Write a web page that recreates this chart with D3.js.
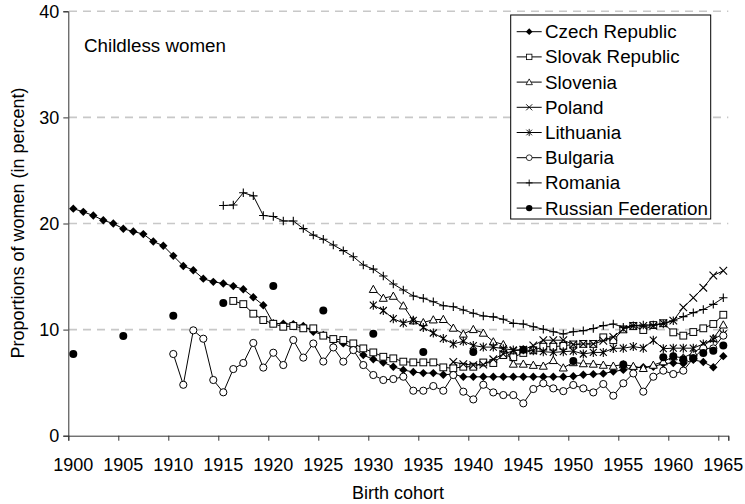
<!DOCTYPE html>
<html><head><meta charset="utf-8">
<script src="https://cdn.jsdelivr.net/npm/d3@7"></script>
<style>body{margin:0;background:#fff}svg{display:block}text{font-family:"Liberation Sans",Arial,sans-serif;fill:#000}</style>
</head><body><svg id="c" width="745" height="504"></svg>
<script>
const years = d3.range(1900, 1966);
const xTickLabels = [1900,1905,1910,1915,1920,1925,1930,1935,1940,1945,1950,1955,1960,1965];
const yTicks = [0,10,20,30,40];

const czechStart = 1900;
const czech = [21.4,21.1,20.75,20.3,20.0,19.5,19.25,19.0,18.3,17.9,16.95,16.0,15.6,14.8,14.5,14.35,14.1,13.8,13.05,12.3,
  10.6,10.55,10.5,10.35,9.8,9.5,9.0,8.7,8.2,7.6,7.2,6.9,6.5,6.2,6.0,5.9,5.9,5.75,5.8,5.55,
  5.55,5.55,5.55,5.55,5.55,5.55,5.55,5.55,5.55,5.55,5.6,5.75,5.8,5.85,6.05,6.2,6.4,6.45,6.5,6.8,
  6.85,6.8,7.15,6.95,6.45,7.5];
const slovakStart = 1916;
const slovak = [12.7,12.4,11.5,10.9,10.55,10.27,10.34,10.12,10.12,9.43,9.11,9.02,8.7,8.23,7.85,7.44,7.29,6.98,6.91,6.91,
  6.91,6.44,6.35,6.5,6.5,6.9,6.85,7.6,7.4,7.8,8.05,8.39,8.39,8.47,8.6,8.65,8.65,9.27,9.0,10.02,
  10.34,9.96,10.43,10.6,9.74,9.43,9.77,10.12,10.53,11.4];
const sloveniaStart = 1930;
const slovenia = [13.8,12.97,13.16,12.25,10.84,10.67,10.93,10.97,10.15,9.59,10.02,9.68,8.86,8.6,6.76,6.76,6.65,6.57,7.1,6.4,
  6.9,6.8,6.76,6.66,6.57,6.7,6.55,6.35,6.66,6.98,7.45,7.35,7.8,8.45,9.17,10.45];
const polandStart = 1938;
const poland = [6.95,6.75,6.65,6.7,7.2,7.7,8.0,8.1,8.5,9.0,9.0,9.0,8.6,8.65,8.65,8.95,9.3,10.05,10.35,10.35,
  10.35,10.6,10.85,12.1,13.0,13.95,15.1,15.55];
const lithuaniaStart = 1930;
const lithuania = [12.3,11.8,11.03,10.62,10.87,10.2,9.68,9.15,8.65,8.9,8.5,8.35,8.35,8.2,8.08,8.1,8.0,7.92,7.85,7.92,
  7.98,7.7,7.85,7.85,8.23,8.25,8.4,8.25,9.0,8.2,8.25,8.25,8.25,8.65,9.1,9.6];
const bulgariaStart = 1910;
const bulgaria = [7.7,4.8,9.93,9.14,5.25,4.09,6.28,6.85,8.74,6.42,7.82,6.66,9.02,7.36,8.69,6.99,8.32,6.98,8.07,6.66,
  5.72,5.25,5.34,5.56,4.24,4.24,4.68,4.24,5.72,4.15,3.42,4.8,4.08,3.83,3.83,3.05,4.4,4.94,4.46,4.2,
  4.78,4.46,4.08,4.87,3.77,4.94,5.87,4.15,5.56,6.13,5.81,6.13,7.29,8.23,8.23,9.43];
const romaniaStart = 1915;
const romania = [21.7,21.74,22.9,22.6,20.75,20.66,20.24,20.24,19.52,18.9,18.52,17.97,17.44,16.87,16.09,15.7,15.05,14.3,13.73,13.17,
  12.95,12.63,12.25,12.16,11.85,11.54,11.28,11.2,10.97,10.59,10.53,10.27,10.03,9.8,9.59,9.8,9.9,10.1,10.37,10.53,
  10.22,10.37,10.43,10.45,10.53,10.84,11.22,11.6,11.9,12.38,13.0];
const russiaYears = [1900,1905,1910,1915,1920,1925,1930,1935,1940,1945,1950,1955,1959,1960,1961,1962,1963,1964,1965];
const russia = [7.7,9.4,11.3,12.5,14.1,11.8,9.6,7.9,7.9,8.1,7.05,6.7,7.4,7.5,7.2,7.3,7.8,8.0,8.5];

const seriesNames = ["Czech Republic","Slovak Republic","Slovenia","Poland","Lithuania","Bulgaria","Romania","Russian Federation"];
const markerTypes = ["diamond","square","triangle","x","asterisk","circle","plus","dot"];

function toPoints(start, vals){ return vals.map((v,i)=>({year:start+i, v})); }
const series = [
  {pts: toPoints(czechStart, czech), line:true},
  {pts: toPoints(slovakStart, slovak), line:true},
  {pts: toPoints(sloveniaStart, slovenia), line:true},
  {pts: toPoints(polandStart, poland), line:true},
  {pts: toPoints(lithuaniaStart, lithuania), line:true},
  {pts: toPoints(bulgariaStart, bulgaria), line:true},
  {pts: toPoints(romaniaStart, romania), line:true},
  {pts: russiaYears.map((y,i)=>({year:y, v:russia[i]})), line:false}
];
series.forEach((s,i)=>{s.name=seriesNames[i]; s.marker=markerTypes[i];});

const svg = d3.select("#c");
const x = d3.scaleBand().domain(years).range([68.3, 728.3]).padding(0);
const xEdge = d3.scaleLinear().domain([1899.5, 1965.5]).range([68.3, 728.3]);
const y = d3.scaleLinear().domain([0, 40]).range([435.7, 11.3]);
const cx = yr => x(yr) + x.bandwidth()/2;

// gridlines
svg.append("g").selectAll("line").data(yTicks.filter(t=>t>0)).join("line")
  .attr("x1", 69).attr("x2", 728.3).attr("y1", d=>y(d)).attr("y2", d=>y(d))
  .attr("stroke", "#c8c8c8").attr("stroke-width", 1.6).attr("stroke-dasharray", "8,6");

// axes
const yAxis = svg.append("g").attr("transform", "translate(68.3,0)")
  .call(d3.axisLeft(y).tickValues(yTicks).tickSize(5).tickPadding(4));
const xTicks = svg.append("g").attr("transform", "translate(0,435.7)")
  .call(d3.axisBottom(xEdge).tickValues(d3.range(1899.5, 1966, 5).concat([1965.5])).tickSize(5).tickFormat(""));
const xLabels = svg.append("g").attr("transform", "translate(0,435.7)")
  .call(d3.axisBottom(x).tickValues(xTickLabels).tickSize(0).tickPadding(23));
xLabels.select(".domain").remove();
[yAxis, xTicks].forEach(g=>{ g.select(".domain").attr("stroke","#333"); g.selectAll(".tick line").attr("stroke","#333"); });
svg.selectAll(".tick text").style("font-family", '"Liberation Sans",Arial,sans-serif').style("font-size","18px").attr("fill","#000");

// marker drawing
function drawMarker(g, type){
  switch(type){
    case "diamond": g.append("path").attr("d","M0,-4.2L4.2,0L0,4.2L-4.2,0Z").attr("fill","#000"); break;
    case "square": g.append("rect").attr("x",-3.4).attr("y",-3.4).attr("width",6.8).attr("height",6.8).attr("fill","#fff").attr("stroke","#000").attr("stroke-width",1); break;
    case "triangle": g.append("path").attr("d","M0,-4L4,3.2L-4,3.2Z").attr("fill","#fff").attr("stroke","#000").attr("stroke-width",1); break;
    case "x": g.append("path").attr("d","M-3.8,-3.8L3.8,3.8M-3.8,3.8L3.8,-3.8").attr("stroke","#000").attr("stroke-width",1.1); break;
    case "asterisk": g.append("path").attr("d","M-3.5,-3.5L3.5,3.5M-3.5,3.5L3.5,-3.5M0,-4.5L0,4.5").attr("stroke","#000").attr("stroke-width",1.1); break;
    case "circle": g.append("circle").attr("r",3.6).attr("fill","#fff").attr("stroke","#000").attr("stroke-width",1); break;
    case "plus": g.append("path").attr("d","M-4.2,0L4.2,0M0,-4.2L0,4.2").attr("stroke","#000").attr("stroke-width",1.1); break;
    case "dot": g.append("circle").attr("r",4).attr("fill","#000"); break;
  }
}

const line = d3.line().defined(d=>d.v!=null).x(d=>cx(d.year)).y(d=>y(d.v));
const plot = svg.append("g");
series.forEach(s=>{
  if(s.line) plot.append("path").datum(s.pts).attr("d", line).attr("fill","none").attr("stroke","#000").attr("stroke-width",1);
  plot.append("g").selectAll("g").data(s.pts.filter(d=>d.v!=null)).join("g")
    .attr("transform", d=>`translate(${cx(d.year)},${y(d.v)})`)
    .each(function(){ drawMarker(d3.select(this), s.marker); });
});

// titles
svg.append("text").attr("x", 84).attr("y", 52).style("font-size","18.8px").text("Childless women");
svg.append("text").attr("transform","translate(24,223) rotate(-90)").attr("text-anchor","middle").style("font-size","18px").text("Proportions of women (in percent)");
svg.append("text").attr("x", 398).attr("y", 499).attr("text-anchor","middle").style("font-size","18px").text("Birth cohort");

// legend
const lg = svg.append("g");
lg.append("rect").attr("x",510.7).attr("y",15).attr("width",200).attr("height",204).attr("fill","#fff").attr("stroke","#000").attr("stroke-width",1);
series.forEach((s,i)=>{
  const yy = 31.7 + 25.2*i;
  const row = lg.append("g").attr("transform",`translate(0,${yy})`);
  row.append("line").attr("x1",516.7).attr("x2",541.7).attr("y1",0).attr("y2",0).attr("stroke","#000").attr("stroke-width",1);
  const m = row.append("g").attr("transform","translate(529.2,0) scale(0.8)");
  drawMarker(m, s.marker);
  row.append("text").attr("x",545).attr("y",6.5).style("font-size","18.8px").text(s.name);
});
</script></body></html>
